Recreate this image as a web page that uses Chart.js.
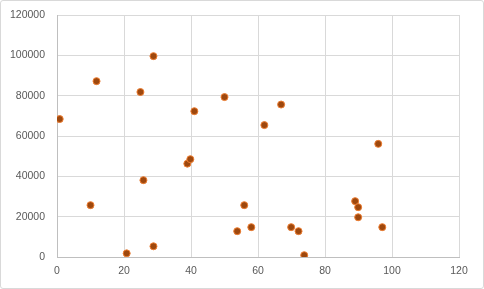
<!DOCTYPE html>
<html>
<head>
<meta charset="utf-8">
<script src="https://cdn.jsdelivr.net/npm/chart.js@4.4.0/dist/chart.umd.min.js"></script>
<style>
  body { margin: 0; background: #fff; }
  #box { width: 482px; height: 287px; border: 1px solid #d9d9d9; border-radius: 3px; position: relative; }
</style>
</head>
<body>
<div id="box"><canvas id="Chart" width="482" height="287"></canvas></div>
<script>
var xValues = [0.8, 11.8, 24.9, 28.8, 41.0, 50.0, 66.9, 61.9, 95.9, 10.0, 20.8, 25.8, 28.8,
    38.9, 39.8, 53.8, 55.9, 58.0, 69.9, 72.1, 73.8, 89.0, 89.9, 89.9, 97.1]
var yValues = [68400, 87200, 81800, 99600, 72300, 79300, 75600, 65400, 56100, 25700, 1800, 38100, 5300,
    46300, 48500, 12800, 25700, 14800, 14800, 12800, 900, 27700, 24700, 19700, 14800]
var xTicks = [0, 20, 40, 60, 80, 100, 120]
var yTicks = [0, 20000, 40000, 60000, 80000, 100000, 120000]

var points = xValues.map(function(x, i) {
    return { x: x, y: yValues[i] };
});

var tickFont = { family: 'Liberation Sans', size: 10.5 };

const ctx = document.getElementById('Chart');
window.myChart = new Chart(ctx, {
    type: 'scatter',
    data: {
        datasets: [{
            data: points,
            backgroundColor: '#9E480E',
            borderColor: '#ED7D31',
            borderWidth: 1,
            pointRadius: 3.5
        }]
    },
    options: {
        responsive: false,
        animation: false,
        layout: { padding: { left: 0, top: 14, right: 24, bottom: 0 } },
        plugins: {
            legend: { display: false },
            tooltip: { enabled: false }
        },
        scales: {
            x: {
                min: xTicks[0],
                max: xTicks[xTicks.length - 1],
                afterBuildTicks: function(axis) {
                    axis.ticks = xTicks.map(function(v) { return { value: v }; });
                },
                // fixed sizes so the plot area lands where the reference has it
                afterFit: function(axis) { axis.height = 31; axis.paddingTop = 0; axis.paddingBottom = 0; },
                grid: { color: '#d9d9d9', drawTicks: false },
                border: { color: '#bfbfbf' },
                ticks: { color: '#595959', font: tickFont, padding: 8, maxRotation: 0 }
            },
            y: {
                min: yTicks[0],
                max: yTicks[yTicks.length - 1],
                afterBuildTicks: function(axis) {
                    axis.ticks = yTicks.map(function(v) { return { value: v }; });
                },
                afterFit: function(axis) { axis.width = 56; axis.paddingTop = 0; axis.paddingBottom = 0; },
                grid: { color: '#d9d9d9', drawTicks: false },
                border: { color: '#bfbfbf' },
                ticks: {
                    color: '#595959', font: tickFont, padding: 12,
                    callback: function(value) { return String(value); }
                }
            }
        }
    }
});
</script>
</body>
</html>
